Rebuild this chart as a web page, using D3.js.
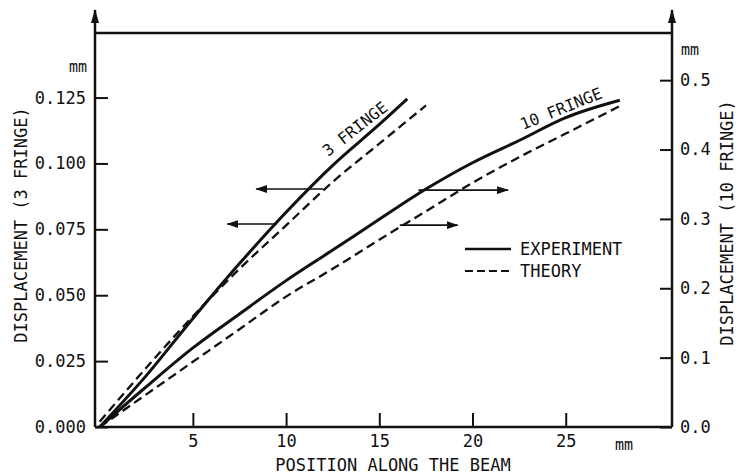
<!DOCTYPE html>
<html>
<head>
<meta charset="utf-8">
<script src="https://cdn.jsdelivr.net/npm/d3@7"></script>
<style>
	html, body { margin: 0; padding: 0; background: #fff; }
	svg text { font-family: 'DejaVu Sans Mono', monospace; fill: #111; }
</style>
</head>
<body>
<svg id="chart" width="741" height="474"></svg>
<script>
// position along the beam (mm) and displacement (mm)
const exp3X = [0, 2.5, 5, 7.5, 10, 12.5, 15, 16.5]
const exp3Y = [0, 0.0195, 0.0412, 0.062, 0.0815, 0.0993, 0.1148, 0.1245]
const theo3X = [0, 2.5, 5, 7.5, 10, 12.5, 15, 17.5]
const theo3Y = [0.002, 0.0225, 0.042, 0.060, 0.0765, 0.093, 0.1075, 0.122]
const exp10X = [0, 2.5, 5, 7.5, 10, 12.5, 15, 17.5, 20, 22.5, 25, 27.9]
const exp10Y = [0, 0.058, 0.114, 0.163, 0.211, 0.255, 0.2995, 0.343, 0.381, 0.413, 0.446, 0.471]
const theo10X = [0, 2.5, 5, 7.5, 10, 12.5, 15, 17.5, 20, 22.5, 25, 28]
const theo10Y = [0, 0.047, 0.094, 0.141, 0.188, 0.228, 0.270, 0.311, 0.352, 0.389, 0.423, 0.464]

const xTicks = [5, 10, 15, 20, 25]
const leftTicks = [0, 0.025, 0.05, 0.075, 0.1, 0.125]
const rightTicks = [0, 0.1, 0.2, 0.3, 0.4, 0.5]
const legendNames = ['EXPERIMENT', 'THEORY']

// arrows showing which axis a curve is read against
const arrowAxis = ['left', 'left', 'right', 'right']
const arrowY = [0.0903, 0.077, 0.3415, 0.291]
const arrowFrom = [11.98, 9.5, 17.1, 16.1]
const arrowTo = [8.4, 6.85, 21.9, 19.2]

const plotL = 95, plotR = 672, plotT = 33, plotB = 427

const svg = d3.select('#chart')

const x = d3.scaleLinear().domain([-0.25, 30.7]).range([plotL, plotR])
const yL = d3.scaleLinear().domain([0, 0.1495]).range([plotB, plotT])
const yR = d3.scaleLinear().domain([0, 0.568]).range([plotB, plotT])

const defs = svg.append('defs')
defs.append('marker')
	.attr('id', 'head')
	.attr('viewBox', '0 0 12 8')
	.attr('refX', 11).attr('refY', 4)
	.attr('markerWidth', 12).attr('markerHeight', 8)
	.attr('markerUnits', 'userSpaceOnUse')
	.attr('orient', 'auto')
	.append('path').attr('d', 'M0,0 L12,4 L0,8 Z').attr('fill', '#111')
defs.append('marker')
	.attr('id', 'axisHead')
	.attr('viewBox', '0 0 14 8')
	.attr('refX', 13).attr('refY', 4)
	.attr('markerWidth', 14).attr('markerHeight', 8)
	.attr('markerUnits', 'userSpaceOnUse')
	.attr('orient', 'auto')
	.append('path').attr('d', 'M0,0 L14,4 L0,8 Z').attr('fill', '#111')

function styleAxis (g) {
	g.select('.domain').remove()
	g.selectAll('line').attr('stroke', '#111').attr('stroke-width', 2)
	g.selectAll('text')
		.attr('font-family', "'DejaVu Sans Mono', monospace")
		.attr('font-size', 17)
		.attr('fill', '#111')
}

svg.append('g')
	.attr('transform', `translate(${plotL},0)`)
	.call(d3.axisLeft(yL).tickValues(leftTicks).tickFormat(d3.format('.3f')).tickSize(-13).tickPadding(9))
	.call(styleAxis)

svg.append('g')
	.attr('transform', `translate(${plotR},0)`)
	.call(d3.axisRight(yR).tickValues(rightTicks).tickFormat(d3.format('.1f')).tickSize(-12).tickPadding(8))
	.call(styleAxis)

svg.append('g')
	.attr('transform', `translate(0,${plotB})`)
	.call(d3.axisBottom(x).tickValues(xTicks).tickFormat(d3.format('d')).tickSize(-14).tickPadding(8))
	.call(styleAxis)

// frame
const frame = svg.append('g').attr('stroke', '#111').attr('stroke-width', 2.5).attr('fill', 'none')
frame.append('line').attr('x1', plotL).attr('x2', plotR).attr('y1', plotB).attr('y2', plotB)
frame.append('line').attr('x1', plotL).attr('x2', plotR).attr('y1', plotT).attr('y2', plotT)
frame.append('line').attr('x1', plotL).attr('x2', plotL).attr('y1', plotB).attr('y2', 10).attr('marker-end', 'url(#axisHead)')
frame.append('line').attr('x1', plotR).attr('x2', plotR).attr('y1', plotB).attr('y2', 10).attr('marker-end', 'url(#axisHead)')

// units and titles
svg.append('text').attr('x', 87).attr('y', 72).attr('text-anchor', 'end').attr('font-size', 15).text('mm')
svg.append('text').attr('x', 681).attr('y', 55).attr('font-size', 15).text('mm')
svg.append('text').attr('x', 615).attr('y', 450).attr('font-size', 15).text('mm')
svg.append('text').attr('x', 393).attr('y', 471).attr('text-anchor', 'middle').attr('font-size', 17)
	.text('POSITION ALONG THE BEAM')
svg.append('text').attr('transform', 'translate(27,225) rotate(-90)').attr('text-anchor', 'middle').attr('font-size', 17)
	.text('DISPLACEMENT (3 FRINGE)')
svg.append('text').attr('transform', 'translate(733,223) rotate(-90)').attr('text-anchor', 'middle').attr('font-size', 17)
	.text('DISPLACEMENT (10 FRINGE)')

// curves
const zip = (xs, ys) => xs.map((v, i) => [v, ys[i]])
const lineL = d3.line().x(d => x(d[0])).y(d => yL(d[1])).curve(d3.curveMonotoneX)
const lineR = d3.line().x(d => x(d[0])).y(d => yR(d[1])).curve(d3.curveMonotoneX)

const series = [
	{ d: lineL(zip(exp3X, exp3Y)), dash: null },
	{ d: lineL(zip(theo3X, theo3Y)), dash: '9,5' },
	{ d: lineR(zip(exp10X, exp10Y)), dash: null },
	{ d: lineR(zip(theo10X, theo10Y)), dash: '9,5' }
]
svg.append('g').selectAll('path')
	.data(series)
	.join('path')
	.attr('d', s => s.d)
	.attr('fill', 'none')
	.attr('stroke', '#111')
	.attr('stroke-width', s => s.dash ? 2.3 : 3)
	.attr('stroke-dasharray', s => s.dash)

// axis pointers
svg.append('g').selectAll('line')
	.data(arrowY)
	.join('line')
	.attr('x1', (d, i) => x(arrowFrom[i]))
	.attr('x2', (d, i) => x(arrowTo[i]))
	.attr('y1', (d, i) => arrowAxis[i] === 'left' ? yL(d) : yR(d))
	.attr('y2', (d, i) => arrowAxis[i] === 'left' ? yL(d) : yR(d))
	.attr('stroke', '#111')
	.attr('stroke-width', 1.6)
	.attr('marker-end', 'url(#head)')

// curve labels
svg.append('text').attr('transform', 'translate(328,157) rotate(-38)').attr('font-size', 16).text('3 FRINGE')
svg.append('text').attr('transform', 'translate(523,130) rotate(-22)').attr('font-size', 16).text('10 FRINGE')

// legend
const legend = svg.append('g')
legend.selectAll('line')
	.data(legendNames)
	.join('line')
	.attr('x1', 465).attr('x2', 511)
	.attr('y1', (d, i) => 249 + i * 22)
	.attr('y2', (d, i) => 249 + i * 22)
	.attr('stroke', '#111')
	.attr('stroke-width', (d, i) => i ? 2 : 2.5)
	.attr('stroke-dasharray', (d, i) => i ? '8,4' : null)
legend.selectAll('text')
	.data(legendNames)
	.join('text')
	.attr('x', 520)
	.attr('y', (d, i) => 255 + i * 22)
	.attr('font-size', 17)
	.text(d => d)
</script>
</body>
</html>
